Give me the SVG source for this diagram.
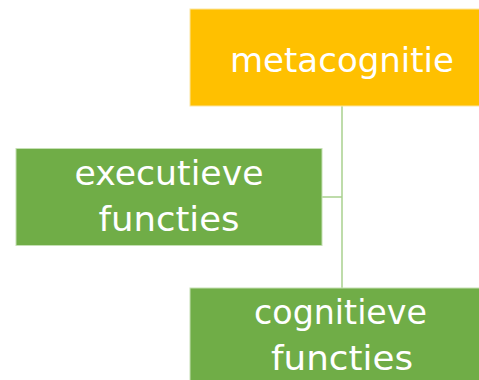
<svg xmlns="http://www.w3.org/2000/svg" width="479" height="380" viewBox="0 0 479 380">
<style>
.lbl{font-family:"Comic Sans MS","DejaVu Sans","Open Sans",sans-serif;font-size:34px;fill:#ffffff;text-anchor:middle}
.conn{stroke:#a9d18e;stroke-width:1.5;fill:none}
</style>
<rect width="479" height="380" fill="#ffffff"/>
<g id="connectors">
<path class="conn" d="M342 106 V288"/>
<path class="conn" d="M322 197 H342"/>
</g>
<g id="metacognitie">
<rect x="190" y="9" width="300" height="97" fill="#ffc000" stroke="#fbe5a0" stroke-width="1"/>
<text class="lbl" x="342" y="72" textLength="224" lengthAdjust="spacingAndGlyphs">metacognitie</text>
</g>
<g id="executieve">
<rect x="16" y="148.5" width="306" height="97" fill="#70ad47" stroke="#c5e0b4" stroke-width="1"/>
<text class="lbl" x="169" y="185" textLength="189" lengthAdjust="spacingAndGlyphs">executieve</text>
<text class="lbl" x="169" y="231" textLength="141" lengthAdjust="spacingAndGlyphs">functies</text>
</g>
<g id="cognitieve">
<rect x="190" y="288" width="300" height="100" fill="#70ad47" stroke="#c5e0b4" stroke-width="1"/>
<text class="lbl" x="340.5" y="324" textLength="173" lengthAdjust="spacingAndGlyphs">cognitieve</text>
<text class="lbl" x="342" y="370" textLength="142" lengthAdjust="spacingAndGlyphs">functies</text>
</g>
</svg>
